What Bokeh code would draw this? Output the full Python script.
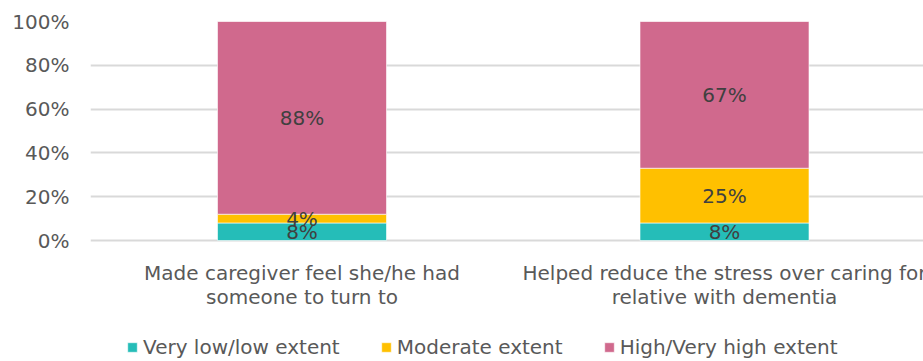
import numpy as np
from bokeh.plotting import figure
from bokeh.models import (ColumnDataSource, Range1d, FixedTicker, PrintfTickFormatter,
                          Legend, LegendItem, LabelSet)
from bokeh.core.properties import value
from bokeh.embed import file_html
from bokeh.resources import INLINE

categories = ["Made caregiver feel she/he had\nsomeone to turn to",
              "Helped reduce the stress over caring for\nrelative with dementia"]
series_names = ["Very low/low extent", "Moderate extent", "High/Very high extent"]
very_low = [8, 8]
moderate = [4, 25]
high = [88, 67]
colors = ["#25BDB8", "#FFC000", "#D0698D"]
y_ticks = [0, 20, 40, 60, 80, 100]

FONT = "DejaVu Sans"
FS = "20px"
x = list(range(len(categories)))
src = ColumnDataSource(dict(x=x, s0=very_low, s1=moderate, s2=high))

# frame spans 21..361 px; values 0..100 occupy 240..21 px, lower part holds labels and legend
p = figure(width=923, height=361, output_backend="svg", toolbar_location=None,
           x_range=Range1d(-0.5006, 1.471), y_range=Range1d(-55.25, 100),
           x_axis_location=None,
           min_border_left=90, min_border_right=0, min_border_top=21, min_border_bottom=0)
p.outline_line_color = None
p.background_fill_color = None
p.border_fill_color = "white"

renderers = p.vbar_stack(["s0", "s1", "s2"], x="x", width=0.4, color=colors,
                         line_color="white", line_width=0.6, source=src)

# data labels
stack = np.array([very_low, moderate, high], dtype=float)
cum = np.cumsum(stack, axis=0)
mids = cum - stack / 2
lx, ly, lt = [], [], []
for i in range(stack.shape[0]):
    for j in range(stack.shape[1]):
        lx.append(x[j]); ly.append(mids[i, j]); lt.append(f"{int(stack[i, j])}%")
lsrc = ColumnDataSource(dict(x=lx, y=ly, t=lt))
p.add_layout(LabelSet(x="x", y="y", text="t", source=lsrc, text_align="center",
                      text_baseline="middle", text_font=value(FONT), text_font_size=value(FS),
                      text_color="#404040"))

# category labels under the bars, one LabelSet per line so each line is centred
lines = [c.split("\n") for c in categories]
for k, off in enumerate([-32, -56]):
    csrc = ColumnDataSource(dict(x=x, y=[0] * len(x), t=[ln[k] for ln in lines]))
    p.add_layout(LabelSet(x="x", y="y", text="t", source=csrc, text_align="center",
                          text_baseline="middle", y_offset=off,
                          text_font=value(FONT), text_font_size=value(FS),
                          text_color="#595959"))

# y axis
p.yaxis.ticker = FixedTicker(ticks=y_ticks)
p.yaxis.formatter = PrintfTickFormatter(format="%d%%")
p.yaxis.axis_line_color = None
p.yaxis.major_tick_line_color = None
p.yaxis.minor_tick_line_color = None
p.yaxis.major_tick_out = 0
p.yaxis.minor_tick_out = 0
p.yaxis.major_label_standoff = 21
p.yaxis.major_label_text_font = FONT
p.yaxis.major_label_text_font_size = FS
p.yaxis.major_label_text_color = "#595959"

for g in p.grid:
    if g.dimension == 0:
        g.visible = False
    else:
        g.ticker = FixedTicker(ticks=y_ticks)
        g.grid_line_color = "#D9D9D9"
        g.grid_line_width = 2

legend = Legend(items=[LegendItem(label=n, renderers=[r]) for n, r in zip(series_names, renderers)],
                orientation="horizontal", location=(36, 2), padding=0, margin=0,
                spacing=40, label_standoff=5, glyph_width=12, glyph_height=12,
                label_text_font=FONT, label_text_font_size=FS,
                label_text_color="#595959", border_line_color=None,
                background_fill_alpha=0)
p.add_layout(legend, "center")

open("out.html", "w").write(file_html(p, INLINE))
